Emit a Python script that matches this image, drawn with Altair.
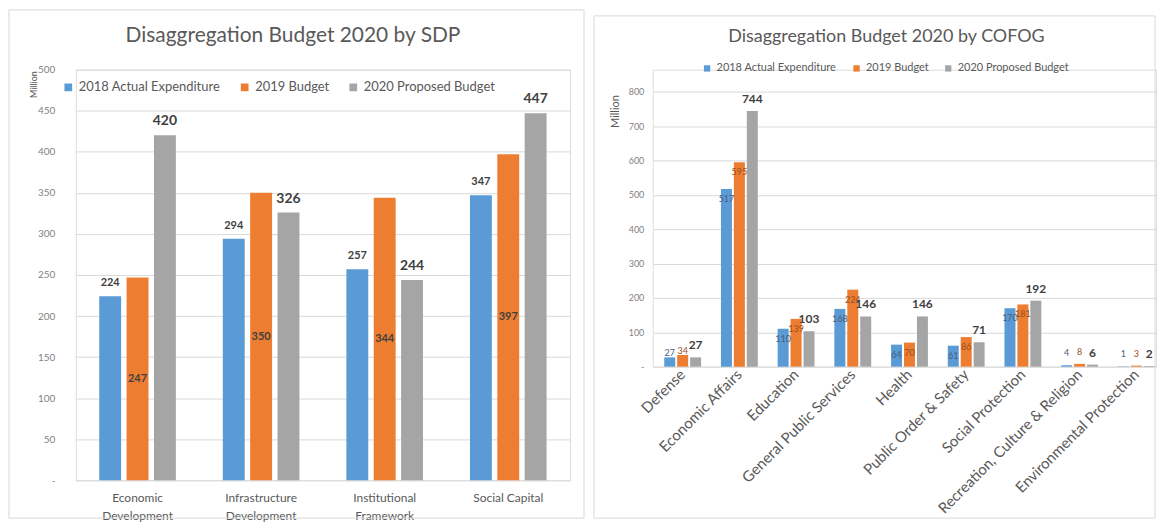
import altair as alt
import pandas as pd

# ---------------- data ----------------
series = ["2018 Actual Expenditure", "2019 Budget", "2020 Proposed Budget"]
series_colors = ["#5B9BD5", "#ED7D31", "#A5A5A5"]

sdp_categories = ["Economic Development", "Infrastructure Development",
                  "Institutional Framework", "Social Capital"]
sdp_2018 = [224, 294, 257, 347]
sdp_2019 = [247, 350, 344, 397]
sdp_2020 = [420, 326, 244, 447]
sdp_ticks = [0, 50, 100, 150, 200, 250, 300, 350, 400, 450, 500]

cofog_categories = ["Defense", "Economic Affairs", "Education",
                    "General Public Services", "Health", "Public Order & Safety",
                    "Social Protection", "Recreation, Culture & Religion",
                    "Environmental Protection"]
cofog_2018 = [27, 517, 110, 168, 64, 61, 170, 4, 1]
cofog_2019 = [34, 595, 139, 224, 70, 86, 181, 8, 3]
cofog_2020 = [27, 744, 103, 146, 146, 71, 192, 6, 2]
cofog_ticks = [0, 100, 200, 300, 400, 500, 600, 700, 800]

# ---------------- style ----------------
FONT = "Lato"
TEXT = "#595959"
TICKTEXT = "#7F7F7F"
GRID = "#D9D9D9"
LABEL = "#404040"
BLUE_LABEL = "#4A5C7A"
ORANGE_LABEL = "#9A4F1E"


def to_long(cats, a, b, c):
    rows = []
    for s, vals in zip(series, (a, b, c)):
        for cat, v in zip(cats, vals):
            rows.append({"category": cat, "series": s, "value": v})
    return pd.DataFrame(rows)


def frame(x1, x2, y1, y2):
    return alt.Chart(pd.DataFrame({"f": [0]})).mark_rect(
        filled=False, stroke=GRID, strokeWidth=1
    ).encode(x=alt.value(x1), x2=alt.value(x2), y=alt.value(y1), y2=alt.value(y2))


def color_enc(legend):
    return alt.Color("series:N", sort=series,
                     scale=alt.Scale(domain=series, range=series_colors),
                     legend=legend)


# ================= Left panel (SDP) =================
sdp_df = to_long(sdp_categories, sdp_2018, sdp_2019, sdp_2020)

xL = alt.X("category:N", sort=sdp_categories, title=None,
           scale=alt.Scale(paddingInner=0.38, paddingOuter=0.19),
           axis=alt.Axis(domain=False, ticks=False, grid=False, labelAngle=0,
                         labelFont=FONT, labelFontSize=12, labelColor=TEXT,
                         labelPadding=12, labelLineHeight=18, labelBaseline="top",
                         labelExpr="datum.label == 'Social Capital' ? datum.label : split(datum.label, ' ')"))
offL = alt.XOffset("series:N", sort=series,
                   scale=alt.Scale(paddingInner=0.2, paddingOuter=0))
axL = alt.Axis(values=sdp_ticks, domain=False, ticks=False, grid=True,
               gridColor=GRID, gridWidth=1,
               labelFont=FONT, labelFontSize=10, labelColor=TICKTEXT, labelPadding=21,
               labelExpr="datum.value == 0 ? '-' : datum.label",
               titleFont=FONT, titleFontSize=9, titleFontWeight="normal",
               titleColor=TEXT, titleAngle=270, titleAlign="right",
               titleBaseline="middle", titleX=-42, titleY=1)


def yL(field):
    return alt.Y(f"{field}:Q", title="Million",
                 scale=alt.Scale(domain=[0, 500], nice=False), axis=axL)


legL = alt.Legend(title=None, orient="none", legendX=-14, legendY=11,
                  direction="horizontal", symbolType="square", symbolSize=60,
                  symbolStrokeWidth=0, labelFont=FONT, labelFontSize=13,
                  labelColor=TEXT, columnPadding=17, labelOffset=4, labelLimit=300)

barsL = alt.Chart(sdp_df).mark_bar().encode(
    x=xL, xOffset=offL, y=yL("value"), color=color_enc(legL))

lblL_blue = alt.Chart(sdp_df).transform_filter(
    alt.datum.series == series[0]
).mark_text(dy=-13, baseline="middle", font=FONT, fontSize=11,
            fontWeight="bold", color=LABEL).encode(
    x=xL, xOffset=offL, y=yL("value"), text=alt.Text("value:Q"))

lblL_orange = alt.Chart(sdp_df).transform_filter(
    alt.datum.series == series[1]
).transform_calculate(half="datum.value / 2").mark_text(
    baseline="middle", font=FONT, fontSize=11, fontWeight="bold", color=LABEL
).encode(x=xL, xOffset=offL, y=yL("half"), text=alt.Text("value:Q"))

lblL_gray = alt.Chart(sdp_df).transform_filter(
    alt.datum.series == series[2]
).mark_text(dy=-14, baseline="middle", font=FONT, fontSize=14,
            fontWeight="bold", color=LABEL).encode(
    x=xL, xOffset=offL, y=yL("value"), text=alt.Text("value:Q"))

left = alt.layer(
    frame(-67, 510, -60, 450), barsL, lblL_blue, lblL_orange, lblL_gray
).properties(
    width=496, height=412,
    title=alt.TitleParams("Disaggregation Budget 2020 by SDP", font=FONT,
                          fontSize=21, fontWeight="normal", color=TEXT,
                          anchor="middle", frame="group", offset=-54, dx=-30,
                          baseline="alphabetic"))

# ================= Right panel (COFOG) =================
cofog_df = to_long(cofog_categories, cofog_2018, cofog_2019, cofog_2020)

xR = alt.X("category:N", sort=cofog_categories, title=None,
           scale=alt.Scale(paddingInner=0.35, paddingOuter=0.1125, align=0.9),
           axis=alt.Axis(domain=False, ticks=False, grid=False, labelAngle=315,
                         labelAlign="right", labelBaseline="middle",
                         labelFont=FONT, labelFontSize=15, labelColor=TEXT,
                         labelPadding=5, labelLimit=300))
offR = alt.XOffset("series:N", sort=series,
                   scale=alt.Scale(paddingInner=0.15, paddingOuter=0))
axR = alt.Axis(values=cofog_ticks, domain=False, ticks=False, grid=True,
               gridColor=GRID, gridWidth=1,
               labelFont=FONT, labelFontSize=9, labelColor=TICKTEXT, labelPadding=9,
               labelExpr="datum.value == 0 ? '-' : datum.label",
               titleFont=FONT, titleFontSize=11, titleFontWeight="normal",
               titleColor=TEXT, titleAngle=270, titleAlign="right",
               titleBaseline="middle", titleX=-37, titleY=25)


def yR(field):
    return alt.Y(f"{field}:Q", title="Million",
                 scale=alt.Scale(domain=[0, 864], nice=False), axis=axR)


legR = alt.Legend(title=None, orient="none", legendX=49, legendY=-7,
                  direction="horizontal", symbolType="square", symbolSize=40,
                  symbolStrokeWidth=0, labelFont=FONT, labelFontSize=11,
                  labelColor=TEXT, columnPadding=14, labelOffset=4, labelLimit=300)

barsR = alt.Chart(cofog_df).mark_bar().encode(
    x=xR, xOffset=offR, y=yR("value"), color=color_enc(legR))


def small_label(series_name, cond, dy, color):
    return alt.Chart(cofog_df).transform_filter(
        alt.datum.series == series_name
    ).transform_filter(cond).mark_text(
        dy=dy, baseline="middle", font=FONT, fontSize=9, color=color
    ).encode(x=xR, xOffset=offR, y=yR("value"), text=alt.Text("value:Q"))


right_layers = [frame(-59, 504, -54, 450), barsR]
for s_name, col in ((series[0], BLUE_LABEL), (series[1], ORANGE_LABEL)):
    right_layers.append(small_label(s_name, alt.datum.value >= 50, 10, col))
    right_layers.append(small_label(s_name, (alt.datum.value >= 20) & (alt.datum.value < 50), -4, col))
    right_layers.append(small_label(s_name, alt.datum.value < 20, -12, col))

right_layers.append(
    alt.Chart(cofog_df).transform_filter(alt.datum.series == series[2]).mark_text(
        dy=-12, baseline="middle", font=FONT, fontSize=12, fontWeight="bold",
        color=LABEL
    ).encode(x=xR, xOffset=offR, y=yR("value"), text=alt.Text("value:Q"))
)

right = alt.layer(*right_layers).properties(
    width=505, height=298,
    title=alt.TitleParams("Disaggregation Budget 2020 by COFOG", font=FONT,
                          fontSize=18, fontWeight="normal", color=TEXT,
                          anchor="middle", frame="group", offset=-45, dx=-18,
                          baseline="alphabetic"))

chart = alt.hconcat(left, right, spacing=8).resolve_scale(
    xOffset="independent", color="independent"
).resolve_legend(
    color="independent"
).properties(
    padding=0, background="white"
).configure_view(stroke=None).configure(font=FONT)

chart.save("out.html", embed_options={"renderer": "svg", "actions": False})
